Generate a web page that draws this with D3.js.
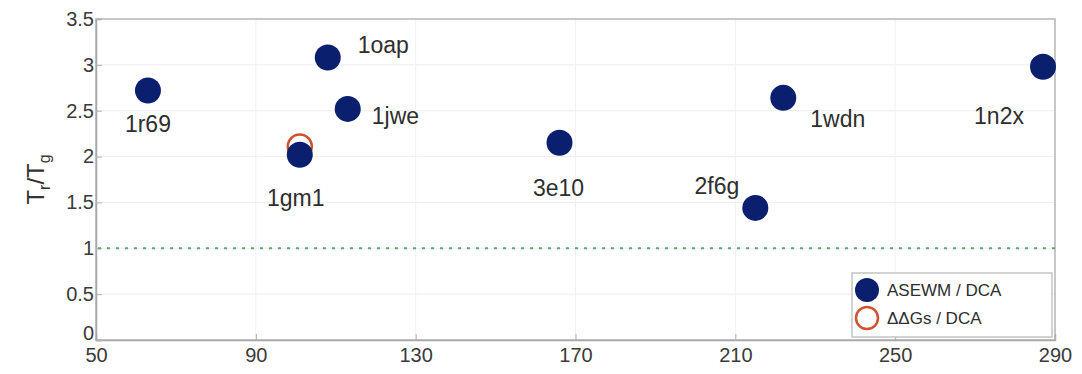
<!DOCTYPE html>
<html>
<head>
<meta charset="utf-8">
<script src="https://cdn.jsdelivr.net/npm/d3@7"></script>
<style>
  body { margin: 0; background: #fff; }
  text { font-family: "Liberation Sans", Arial, sans-serif; }
</style>
</head>
<body>
<div id="chart"></div>
<script>
// data
var proteins = ["1r69", "1oap", "1jwe", "1gm1", "3e10", "2f6g", "1wdn", "1n2x"];
var lengths  = [63, 108, 113, 101, 166, 215, 222, 287];
var ratioASEWM = [2.72, 3.08, 2.52, 2.02, 2.15, 1.44, 2.64, 2.98];
// only 1gm1 has a ddG value
var ddgProtein = ["1gm1"];
var ddgLength = [101];
var ddgRatio = [2.11];
var xTicks = [50, 90, 130, 170, 210, 250, 290];
var yTicks = [0, 0.5, 1, 1.5, 2, 2.5, 3, 3.5];
var legendLabels = ["ASEWM / DCA", "\u0394\u0394Gs / DCA"];

// where each label sits relative to its dot (px)
var labelPos = {
    "1r69": { dx: 0, dy: 41, anchor: "middle" },
    "1oap": { dx: 30, dy: -5, anchor: "start" },
    "1jwe": { dx: 24, dy: 15, anchor: "start" },
    "1gm1": { dx: -4, dy: 51, anchor: "middle" },
    "3e10": { dx: -1, dy: 53, anchor: "middle" },
    "2f6g": { dx: -16, dy: -14, anchor: "end" },
    "1wdn": { dx: 27, dy: 29, anchor: "start" },
    "1n2x": { dx: -44, dy: 57, anchor: "middle" }
};

var self = {};
self.svgWidth = 1082;
self.svgHeight = 374;
self.margin = { top: 19, right: 27, bottom: 34, left: 96 };

self.svg = d3.select("#chart")
    .append("svg")
    .attr("width", self.svgWidth)
    .attr("height", self.svgHeight);

var x = d3.scaleLinear()
    .domain([50, 290])
    .range([self.margin.left, self.svgWidth - self.margin.right]);

var y = d3.scaleLinear()
    .domain([0, 3.5])
    .range([self.svgHeight - self.margin.bottom, self.margin.top]);

// faint grid
self.svg.append("g")
    .selectAll("line.hgrid")
    .data(yTicks.slice(1, -1))
    .join("line")
    .attr("class", "hgrid")
    .attr("x1", x(50)).attr("x2", x(290))
    .attr("y1", d => y(d)).attr("y2", d => y(d))
    .attr("stroke", "#eeeeee").attr("stroke-width", 1);

self.svg.append("g")
    .selectAll("line.vgrid")
    .data(xTicks.slice(1, -1))
    .join("line")
    .attr("class", "vgrid")
    .attr("y1", y(0)).attr("y2", y(3.5))
    .attr("x1", d => x(d)).attr("x2", d => x(d))
    .attr("stroke", "#f1f1f1").attr("stroke-width", 1);

// box
self.svg.append("rect")
    .attr("x", x(50)).attr("y", y(3.5))
    .attr("width", x(290) - x(50))
    .attr("height", y(0) - y(3.5))
    .attr("fill", "none")
    .attr("stroke", "#b5b5b5")
    .attr("stroke-width", 1.5);

// axes
var xAxis = self.svg.append("g")
    .attr("class", "xAxis")
    .attr("transform", `translate(0,${y(0)})`)
    .call(d3.axisBottom(x).tickValues(xTicks).tickSize(-6).tickPadding(10).tickFormat(d3.format("d")));

var yAxis = self.svg.append("g")
    .attr("class", "yAxis")
    .attr("transform", `translate(${x(50)},0)`)
    .call(d3.axisLeft(y).tickValues(yTicks).tickSize(-6).tickPadding(4).tickFormat(d => d));

[xAxis, yAxis].forEach(function (ax) {
    ax.select(".domain").attr("stroke", "#a8a8a8").attr("stroke-width", 1.5);
    ax.selectAll(".tick line").attr("stroke", "#b0b0b0");
    ax.selectAll("text")
        .style("font-size", "20px")
        .attr("fill", "#3a3a3a");
});
xAxis.selectAll("text").attr("dy", "0.6em");
yAxis.selectAll("text").attr("dx", "2px");
// the 0 sits just above the 50, as in the original
yAxis.selectAll(".tick text").filter(d => d === 0).attr("dy", "-0.05em");

// reference line T_r/T_g = 1
self.svg.append("line")
    .attr("x1", x(50) + 2).attr("x2", x(290))
    .attr("y1", y(1)).attr("y2", y(1))
    .attr("stroke", "#5aa57a")
    .attr("stroke-width", 2)
    .attr("stroke-dasharray", "3,6");

// y label
var yl = self.svg.append("text")
    .attr("transform", `translate(44,${(y(0) + y(3.5)) / 2}) rotate(-90)`)
    .attr("text-anchor", "middle")
    .attr("fill", "#333")
    .style("font-size", "24px");
yl.append("tspan").text("T");
yl.append("tspan").text("r").style("font-size", "16px").attr("dy", 6);
yl.append("tspan").text("/T").attr("dy", -6);
yl.append("tspan").text("g").style("font-size", "16px").attr("dy", 6);

// ddG open circles, drawn under the filled dots
self.svg.append("g")
    .selectAll("circle")
    .data(ddgLength)
    .join("circle")
    .attr("cx", d => x(d))
    .attr("cy", (d, i) => y(ddgRatio[i]))
    .attr("r", 12)
    .attr("fill", "#fff")
    .attr("stroke", "#d0532e")
    .attr("stroke-width", 2.5);

// ASEWM dots
self.svg.append("g")
    .selectAll("circle")
    .data(lengths)
    .join("circle")
    .attr("cx", d => x(d))
    .attr("cy", (d, i) => y(ratioASEWM[i]))
    .attr("r", 13)
    .attr("fill", "#0a1f6e");

// point labels
self.svg.append("g")
    .selectAll("text")
    .data(proteins)
    .join("text")
    .attr("x", (d, i) => x(lengths[i]) + labelPos[d].dx)
    .attr("y", (d, i) => y(ratioASEWM[i]) + labelPos[d].dy)
    .attr("text-anchor", d => labelPos[d].anchor)
    .attr("fill", "#2e2e2e")
    .style("font-size", "23px")
    .text(d => d);

// legend
var lg = self.svg.append("g")
    .attr("transform", "translate(852,273)");
lg.append("rect")
    .attr("width", 200).attr("height", 64)
    .attr("fill", "#fff")
    .attr("stroke", "#c4c4c4")
    .attr("stroke-width", 1.5);
lg.append("circle").attr("cx", 15).attr("cy", 17).attr("r", 12).attr("fill", "#0a1f6e");
lg.append("circle").attr("cx", 15).attr("cy", 45).attr("r", 11)
    .attr("fill", "#fff").attr("stroke", "#d0532e").attr("stroke-width", 2.5);
lg.selectAll("text.leg")
    .data(legendLabels)
    .join("text")
    .attr("class", "leg")
    .attr("x", 35)
    .attr("y", (d, i) => 23 + i * 28)
    .attr("fill", "#2e2e2e")
    .style("font-size", "17px")
    .text(d => d);
</script>
</body>
</html>
